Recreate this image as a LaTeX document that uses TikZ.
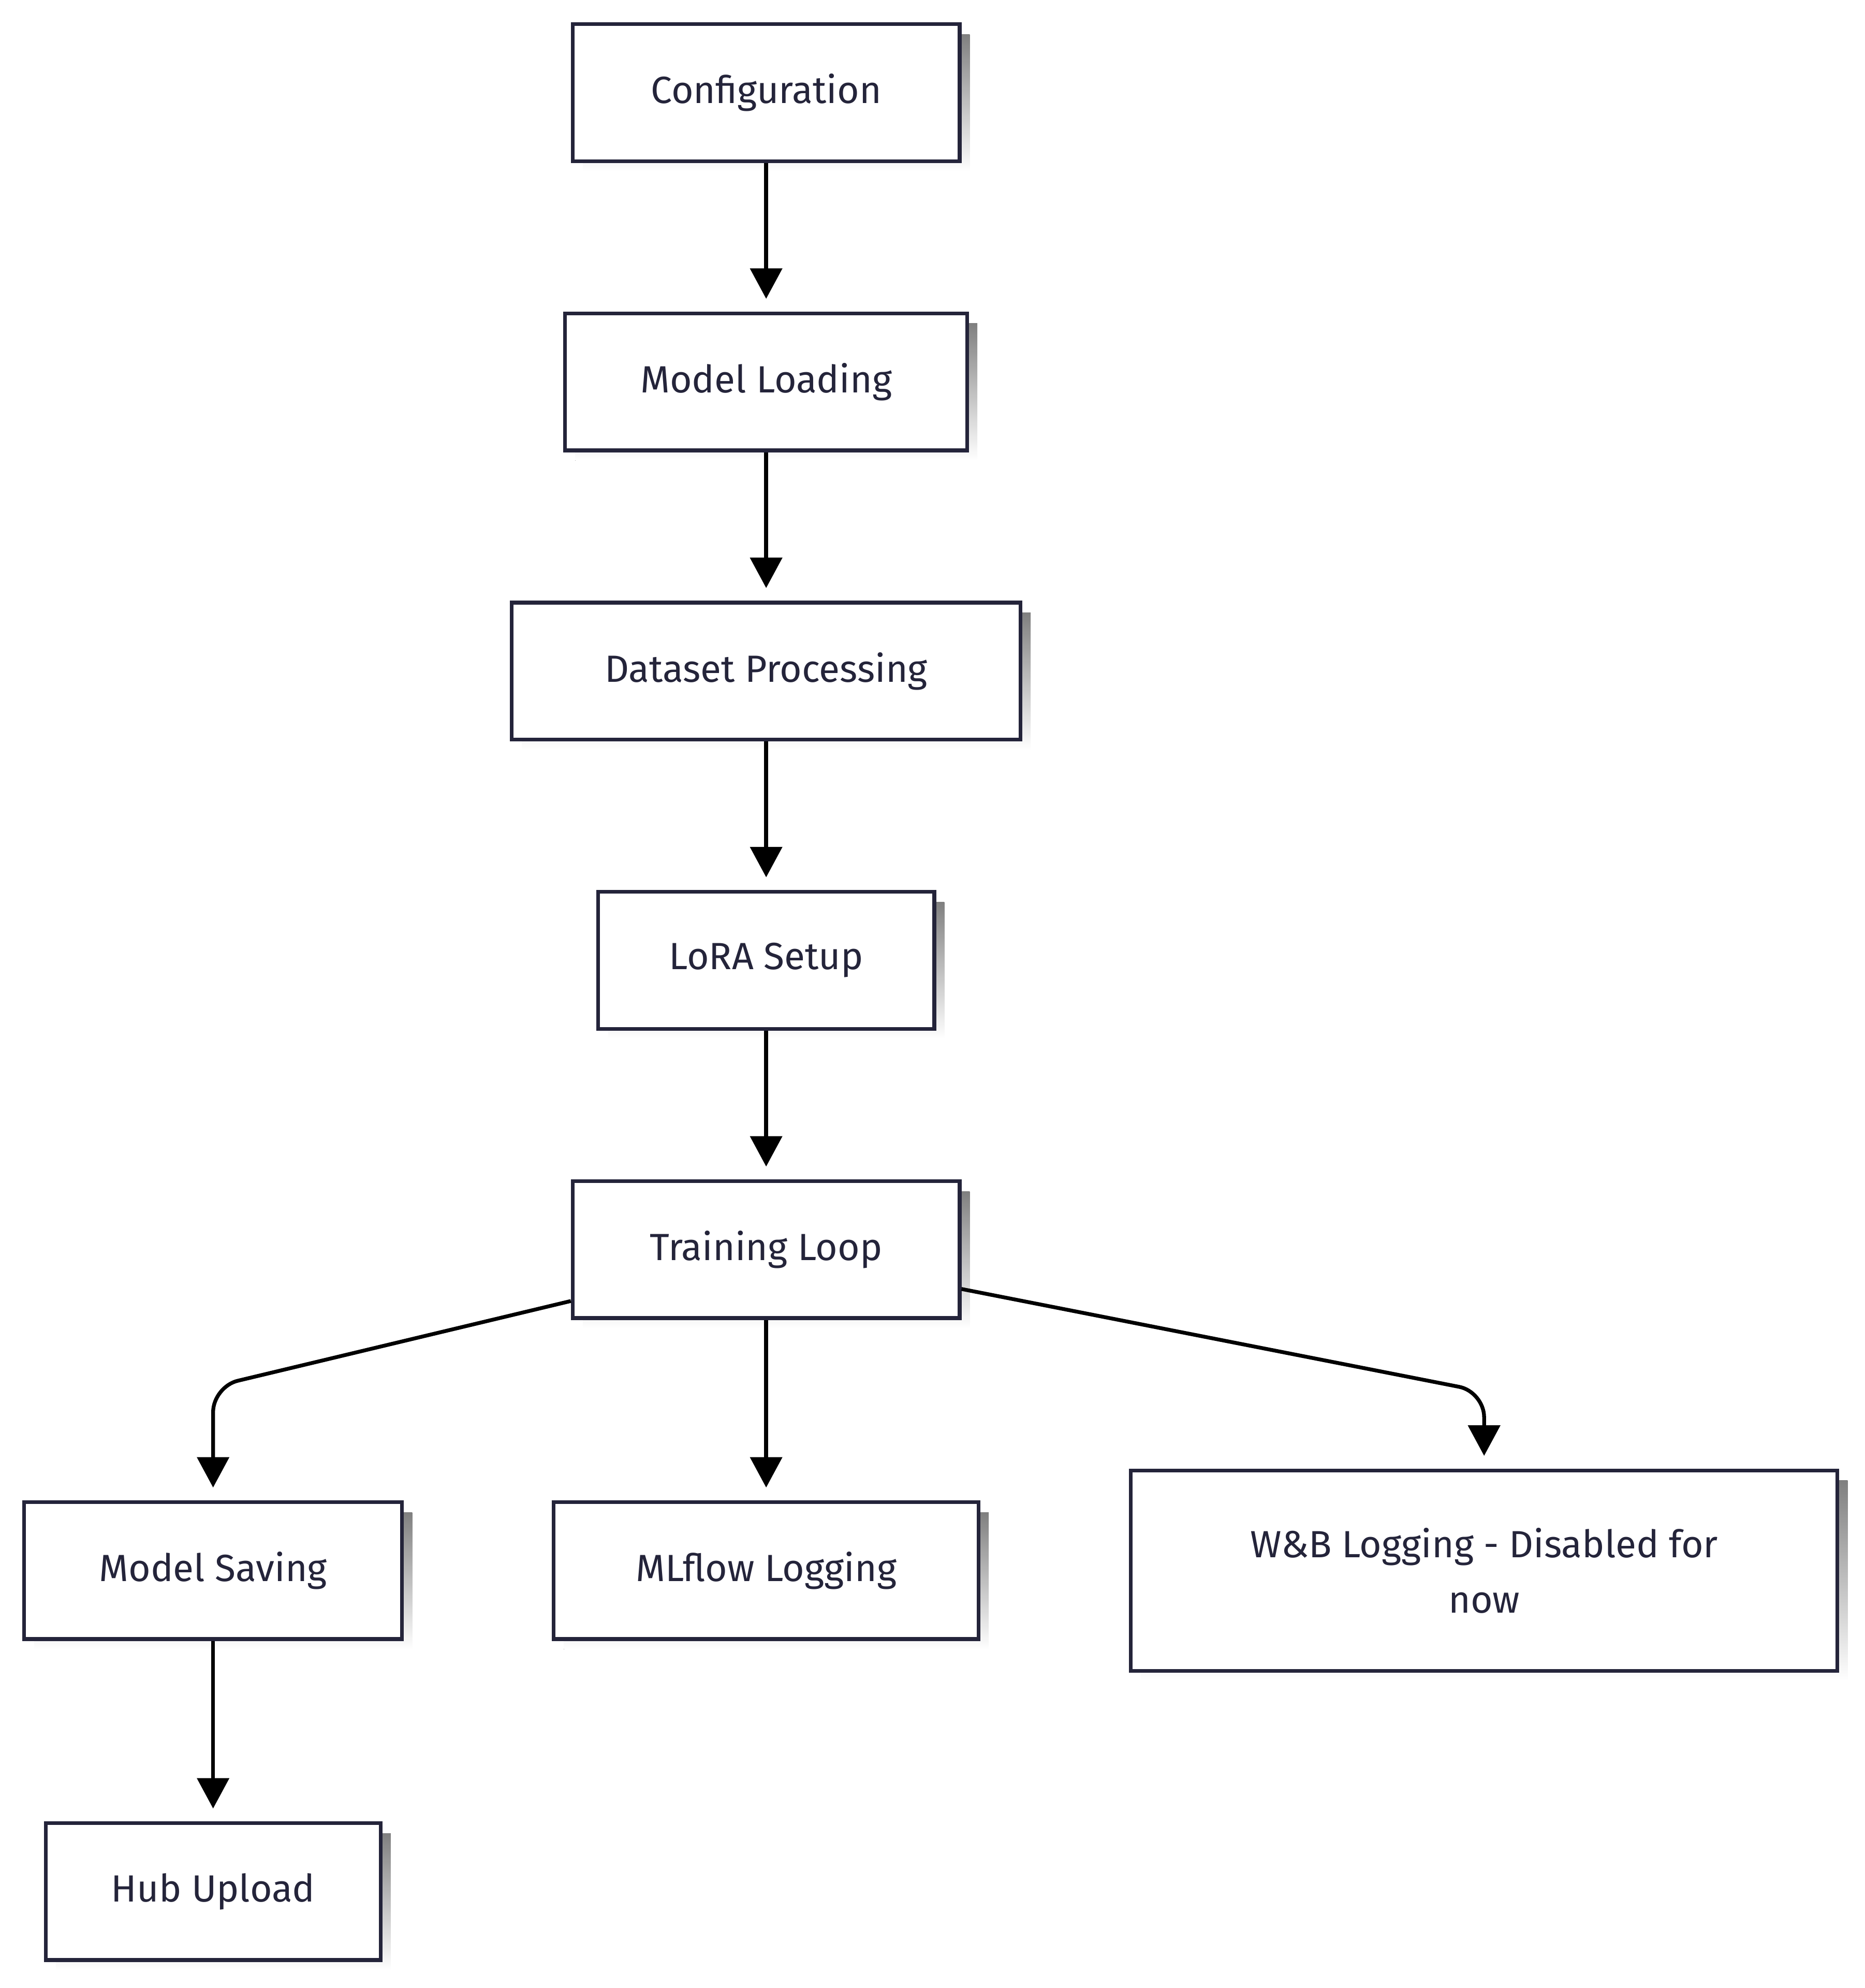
\documentclass[tikz,border=0pt]{standalone}
\usepackage{fontspec}
\setmainfont{Fira Sans}
\usetikzlibrary{arrows.meta}
\definecolor{boxline}{HTML}{24243A}
\definecolor{shade}{HTML}{EBEBEB}
\tikzset{
	box/.style={draw=boxline, line width=1.7pt, fill=white, text=boxline, font=\fontsize{17}{25}\selectfont, align=center, inner sep=0pt},
	flow/.style={line width=1.7pt, -{Triangle[length=0.48cm,width=0.5cm]}, shorten >=0.2cm, rounded corners=0.4cm}
}
\newcommand{\flowbox}[5]{%
	\fill[shade] (#2+8-#4/2,#3+8-#5/2) rectangle (#2+8+#4/2,#3+8+#5/2);
	\node[box, minimum width=#4*0.02cm, minimum height=#5*0.02cm] (#1) at (#2,#3) {\strut};
}
\begin{document}
\begin{tikzpicture}[x=0.02cm,y=-0.02cm]
		\useasboundingbox (0,0) rectangle (1470,1567);
		% boxes
		\flowbox{config}{604}{73}{305}{108}
		\flowbox{load}{604}{301}{317}{108}
		\flowbox{data}{604}{529}{401}{108}
		\flowbox{lora}{604}{757}{265}{108}
		\flowbox{train}{604}{985}{305}{108}
		\flowbox{save}{168}{1238}{298}{108}
		\flowbox{mlflow}{604}{1238}{335}{108}
		\flowbox{wandb}{1170}{1238}{557}{158}
		\flowbox{hub}{168}{1491}{264}{108}
		% labels
		\node[box, draw=none, fill=none] at (config) {Configuration};
		\node[box, draw=none, fill=none] at (load) {Model Loading};
		\node[box, draw=none, fill=none] at (data) {Dataset Processing};
		\node[box, draw=none, fill=none] at (lora) {LoRA Setup};
		\node[box, draw=none, fill=none] at (train) {Training Loop};
		\node[box, draw=none, fill=none] at (save) {Model Saving};
		\node[box, draw=none, fill=none] at (mlflow) {MLflow Logging};
		\node[box, draw=none, fill=none] at (wandb) {W\&B Logging - Disabled for\\now};
		\node[box, draw=none, fill=none] at (hub) {Hub Upload};
		% connectors
		\draw[flow] (config) -- (load);
		\draw[flow] (load) -- (data);
		\draw[flow] (data) -- (lora);
		\draw[flow] (lora) -- (train);
		\draw[flow] (train) -- (mlflow);
		\draw[flow] (save) -- (hub);
		\draw[flow] (train.south west) ++(0,-15) -- (168,1093) -- (save.north);
		\draw[flow] (train.east) ++(0,31) -- (1170,1097) -- (wandb.north);
	\end{tikzpicture}
\end{document}
